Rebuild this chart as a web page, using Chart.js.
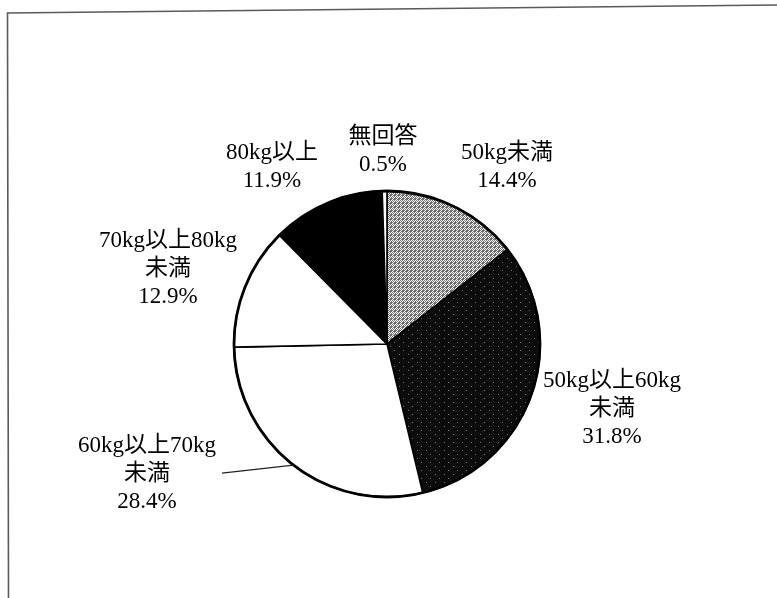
<!DOCTYPE html>
<html lang="ja">
<head>
<meta charset="utf-8">
<script src="https://cdn.jsdelivr.net/npm/chart.js@4.4.1/dist/chart.umd.min.js"></script>
<style>
    html, body { margin: 0; padding: 0; background: #fff; }
    #wrap { position: relative; width: 777px; height: 598px; }
</style>
</head>
<body>
<div id="wrap"><canvas id="weight-pie"></canvas></div>
<script>
const categories = [
    "50kg未満",
    "50kg以上60kg未満",
    "60kg以上70kg未満",
    "70kg以上80kg未満",
    "80kg以上",
    "無回答",
];
const shares = [14.4, 31.8, 28.4, 12.9, 11.9, 0.5];
// how each category name is broken onto lines in the label
const nameLines = [
    ["50kg未満"],
    ["50kg以上60kg", "未満"],
    ["60kg以上70kg", "未満"],
    ["70kg以上80kg", "未満"],
    ["80kg以上"],
    ["無回答"],
];

// label block centre, relative to pie centre, in units of the radius
const labelOffsets = [
    [0.784, -1.167],
    [1.471, 0.412],
    [-1.569, 0.837],
    [-1.431, -0.503],
    [-0.752, -1.167],
    [-0.026, -1.275],
];
const leaderLines = [false, false, true, false, false, false];

const FONT_SIZE = 23;
const LINE_H = 28;
const FONT = `${FONT_SIZE}px "Liberation Serif", "Noto Sans CJK JP", serif`;

function makePattern(base, dot, map) {
    const rows = map.split("/");
    const c = document.createElement("canvas");
    c.width = rows[0].length;
    c.height = rows.length;
    const g = c.getContext("2d");
    g.fillStyle = base;
    g.fillRect(0, 0, c.width, c.height);
    g.fillStyle = dot;
    rows.forEach((row, y) => {
        [...row].forEach((ch, x) => {
            if (ch === "1") g.fillRect(x, y, 1, 1);
        });
    });
    return g.createPattern(c, "repeat");
}

const lightGray = makePattern("#ffffff", "#6e6e6e", "1010/0101/1011/0111");
const darkGray = makePattern("#0c0c0c", "#6a6a6a", "000000000/000000000/000100000/000000000/000000000/000000000/000000010/000000000");

const frame = {
    id: "frame",
    beforeDraw(chart) {
        const ctx = chart.ctx;
        ctx.save();
        ctx.strokeStyle = "#5a5a5a";
        ctx.lineWidth = 1.6;
        ctx.beginPath();
        ctx.moveTo(777, 5);
        ctx.lineTo(7.5, 13);
        ctx.lineTo(8.5, 598);
        ctx.stroke();
        ctx.restore();
    },
};

const sliceLabels = {
    id: "sliceLabels",
    afterDatasetsDraw(chart) {
        const ctx = chart.ctx;
        const arcs = chart.getDatasetMeta(0).data;
        ctx.save();

        // heavier outer rim
        const first = arcs[0];
        ctx.beginPath();
        ctx.arc(first.x, first.y, first.outerRadius, 0, Math.PI * 2);
        ctx.lineWidth = 2.8;
        ctx.strokeStyle = "#000";
        ctx.stroke();

        ctx.font = FONT;
        ctx.fillStyle = "#000";
        ctx.textAlign = "center";
        ctx.textBaseline = "alphabetic";

        arcs.forEach((arc, i) => {
            const lines = nameLines[i].concat(shares[i].toFixed(1) + "%");
            const cx = arc.x + labelOffsets[i][0] * arc.outerRadius;
            const cy = arc.y + labelOffsets[i][1] * arc.outerRadius;
            const top = cy - ((lines.length - 1) * LINE_H) / 2;
            let widest = 0;
            lines.forEach((t, k) => {
                ctx.fillText(t, cx, top + k * LINE_H + FONT_SIZE * 0.34);
                widest = Math.max(widest, ctx.measureText(t).width);
            });

            if (leaderLines[i]) {
                const mid = (arc.startAngle + arc.endAngle) / 2;
                const ex = arc.x + Math.cos(mid) * arc.outerRadius;
                const ey = arc.y + Math.sin(mid) * arc.outerRadius;
                ctx.beginPath();
                ctx.moveTo(cx + widest / 2 + 6, top + LINE_H + 1);
                ctx.lineTo(ex, ey);
                ctx.lineWidth = 1.2;
                ctx.strokeStyle = "#222";
                ctx.stroke();
            }
        });
        ctx.restore();
    },
};

new Chart(document.querySelector("#weight-pie"), {
    type: "pie",
    data: {
        labels: categories,
        datasets: [
            {
                data: shares,
                backgroundColor: [lightGray, darkGray, "#ffffff", "#ffffff", "#000000", "#ffffff"],
                borderColor: "#000",
                borderWidth: 1.6,
                borderAlign: "center",
                radius: 153,
            },
        ],
    },
    options: {
        responsive: true,
        maintainAspectRatio: false,
        animation: false,
        layout: { padding: { top: 90, bottom: 0, left: 0, right: 3 } },
        plugins: {
            legend: { display: false },
            tooltip: { enabled: false },
        },
    },
    plugins: [frame, sliceLabels],
});
</script>
</body>
</html>
